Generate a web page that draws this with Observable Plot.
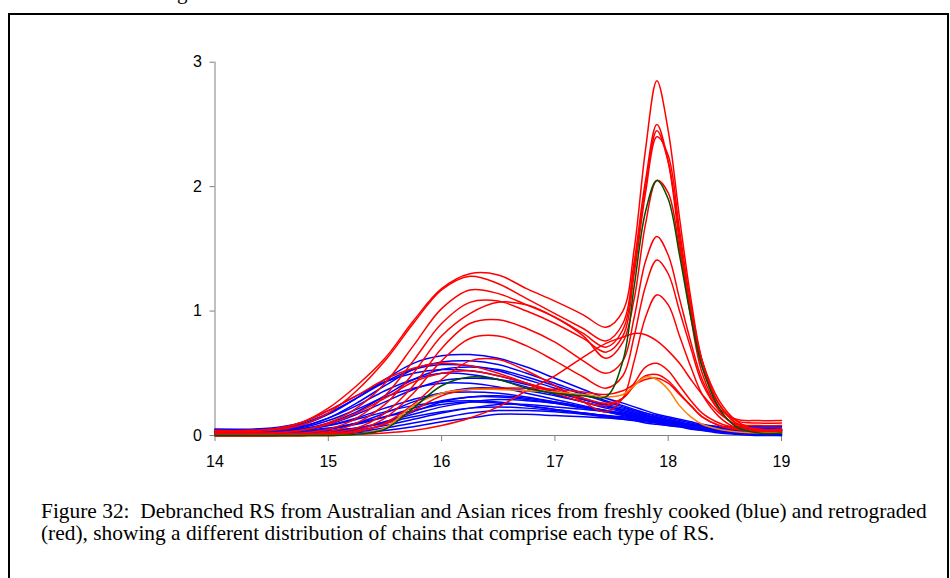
<!DOCTYPE html>
<html>
<head>
<meta charset="utf-8">
<script src="https://cdn.jsdelivr.net/npm/d3@7"></script>
<script src="https://cdn.jsdelivr.net/npm/@observablehq/plot@0.6"></script>
<style>
  html, body { margin: 0; padding: 0; background: #fff; }
  body { width: 950px; height: 578px; position: relative; overflow: hidden; }
  #frame { position: absolute; left: 8px; top: 13px; width: 941px; height: 600px; border: 2px solid #000; box-sizing: border-box; }
  #chart { position: absolute; left: 0; top: 0; }
  #head { position: absolute; left: 177px; top: -19px; font-family: "Liberation Serif", "Times New Roman", serif; font-size: 21px; line-height: 22px; }
  #caption { position: absolute; left: 41px; top: 500px; width: 905px; font-family: "Liberation Serif", "Times New Roman", serif; font-size: 21.4px; line-height: 22px; color: #000; white-space: nowrap; }
</style>
</head>
<body>
<div id="head">g</div>
<div id="frame"></div>
<div id="chart"></div>
<div id="caption">Figure 32:&nbsp; Debranched RS from Australian and Asian rices from freshly cooked (blue) and retrograded<br>(red), showing a different distribution of chains that comprise each type of RS.</div>
<script>
// shared elution-time grid (x)
const xGrid = [14, 14.5, 14.75, 15, 15.25, 15.5, 15.75, 16, 16.25, 16.5, 16.75, 17, 17.25, 17.45, 17.6, 17.7, 17.8, 17.9, 18, 18.1, 18.2, 18.3, 18.45, 18.6, 18.8, 19];
const xTicks = [14, 15, 16, 17, 18, 19];
const yTicks = [0, 1, 2, 3];

// freshly cooked (blue)
const blue01 = [0.04,0.05,0.08,0.17,0.30,0.45,0.58,0.64,0.65,0.62,0.55,0.46,0.37,0.30,0.26,0.23,0.20,0.17,0.15,0.13,0.11,0.09,0.07,0.06,0.05,0.05];
const blue02 = [0.04,0.05,0.07,0.14,0.26,0.40,0.53,0.59,0.60,0.57,0.50,0.42,0.34,0.28,0.24,0.21,0.18,0.15,0.13,0.11,0.09,0.08,0.06,0.05,0.04,0.04];
const blue03 = [0.05,0.05,0.09,0.18,0.30,0.43,0.53,0.57,0.56,0.52,0.45,0.38,0.30,0.24,0.20,0.18,0.16,0.14,0.12,0.10,0.08,0.07,0.06,0.05,0.05,0.05];
const blue04 = [0.03,0.03,0.05,0.10,0.19,0.32,0.45,0.53,0.55,0.53,0.47,0.40,0.33,0.27,0.23,0.20,0.17,0.14,0.12,0.10,0.08,0.06,0.04,0.03,0.03,0.03];
const blue05 = [0.04,0.04,0.07,0.14,0.24,0.36,0.45,0.50,0.49,0.45,0.39,0.33,0.27,0.22,0.19,0.17,0.15,0.13,0.11,0.10,0.08,0.07,0.06,0.05,0.05,0.05];
const blue06 = [0.03,0.03,0.05,0.09,0.17,0.27,0.37,0.44,0.46,0.45,0.41,0.35,0.29,0.24,0.21,0.19,0.16,0.14,0.12,0.10,0.08,0.07,0.05,0.04,0.03,0.03];
const blue07 = [0.04,0.04,0.06,0.12,0.21,0.31,0.38,0.42,0.42,0.39,0.34,0.29,0.24,0.20,0.17,0.15,0.13,0.12,0.10,0.09,0.08,0.07,0.06,0.05,0.05,0.05];
const blue08 = [0.02,0.02,0.03,0.05,0.10,0.18,0.27,0.34,0.38,0.38,0.36,0.32,0.27,0.23,0.20,0.18,0.16,0.14,0.12,0.10,0.08,0.06,0.04,0.03,0.02,0.02];
const blue09 = [0.03,0.03,0.04,0.08,0.14,0.22,0.29,0.34,0.35,0.34,0.31,0.27,0.23,0.20,0.18,0.16,0.14,0.12,0.10,0.09,0.07,0.06,0.05,0.04,0.04,0.04];
const blue10 = [0.02,0.02,0.03,0.05,0.09,0.15,0.22,0.28,0.31,0.31,0.29,0.26,0.22,0.19,0.17,0.15,0.13,0.12,0.10,0.08,0.07,0.05,0.04,0.03,0.02,0.02];
const blue11 = [0.01,0.01,0.02,0.03,0.06,0.11,0.17,0.23,0.27,0.29,0.28,0.26,0.23,0.20,0.18,0.16,0.14,0.12,0.10,0.08,0.06,0.05,0.03,0.02,0.01,0.01];
const blue12 = [0.03,0.03,0.04,0.06,0.10,0.15,0.20,0.25,0.27,0.26,0.24,0.21,0.18,0.16,0.14,0.13,0.12,0.11,0.10,0.09,0.08,0.07,0.06,0.05,0.05,0.05];
const blue13 = [0.01,0.01,0.01,0.02,0.04,0.08,0.13,0.18,0.22,0.25,0.25,0.23,0.21,0.19,0.17,0.16,0.14,0.12,0.10,0.08,0.06,0.05,0.03,0.02,0.01,0.00];
const blue14 = [0.02,0.02,0.02,0.04,0.06,0.10,0.15,0.19,0.22,0.23,0.22,0.20,0.18,0.16,0.15,0.14,0.13,0.12,0.11,0.10,0.09,0.08,0.07,0.07,0.07,0.07];
const blue15 = [0.00,0.00,0.01,0.02,0.03,0.06,0.10,0.14,0.18,0.20,0.20,0.19,0.17,0.15,0.14,0.13,0.12,0.11,0.09,0.08,0.06,0.05,0.03,0.02,0.01,0.01];
const blue16 = [0.00,0.00,0.00,0.01,0.02,0.04,0.07,0.11,0.14,0.17,0.17,0.16,0.15,0.14,0.13,0.12,0.11,0.10,0.09,0.08,0.07,0.06,0.05,0.04,0.04,0.04];
const blue17 = [0.00,0.00,0.01,0.02,0.05,0.11,0.19,0.27,0.31,0.32,0.30,0.27,0.23,0.19,0.16,0.14,0.12,0.10,0.08,0.07,0.05,0.04,0.02,0.01,0.00,0.00];
const blue18 = [0.05,0.06,0.10,0.20,0.32,0.43,0.50,0.53,0.52,0.48,0.42,0.35,0.29,0.25,0.22,0.20,0.18,0.16,0.14,0.12,0.10,0.08,0.07,0.06,0.06,0.06];
const blue19 = [0.03,0.03,0.05,0.08,0.13,0.19,0.24,0.27,0.28,0.27,0.24,0.21,0.18,0.15,0.13,0.12,0.10,0.09,0.08,0.07,0.06,0.05,0.04,0.04,0.04,0.04];

// retrograded (red)
const red01 = [0.04,0.05,0.10,0.22,0.40,0.62,0.92,1.18,1.30,1.29,1.18,1.08,0.97,0.87,1.00,1.50,2.30,2.85,2.45,1.75,1.10,0.60,0.25,0.12,0.10,0.10];
const red02 = [0.03,0.04,0.08,0.18,0.36,0.60,0.90,1.17,1.28,1.22,1.10,0.98,0.86,0.76,0.90,1.40,2.05,2.50,2.20,1.55,0.95,0.50,0.22,0.13,0.12,0.12];
const red03 = [0.02,0.02,0.04,0.10,0.22,0.42,0.72,1.02,1.17,1.14,1.05,0.95,0.82,0.71,0.85,1.35,2.00,2.45,2.20,1.60,1.00,0.55,0.25,0.10,0.08,0.08];
const red04 = [0.00,0.01,0.02,0.05,0.14,0.32,0.60,0.90,1.07,1.08,1.00,0.90,0.78,0.67,0.80,1.30,1.95,2.40,2.25,1.65,1.05,0.60,0.25,0.10,0.05,0.05];
const red05 = [0.00,0.00,0.01,0.03,0.10,0.25,0.50,0.80,0.98,1.07,1.05,0.95,0.80,0.62,0.75,1.10,1.70,2.05,1.95,1.50,1.00,0.60,0.28,0.12,0.04,0.03];
const red06 = [0.00,0.00,0.01,0.02,0.06,0.18,0.40,0.70,0.90,0.93,0.86,0.75,0.60,0.50,0.60,0.95,1.40,1.60,1.45,1.10,0.75,0.45,0.20,0.08,0.03,0.02];
const red07 = [0.00,0.00,0.00,0.01,0.04,0.14,0.34,0.60,0.78,0.80,0.72,0.60,0.47,0.38,0.48,0.80,1.20,1.41,1.30,1.00,0.70,0.42,0.20,0.08,0.03,0.02];
const red08 = [0.00,0.00,0.00,0.01,0.03,0.10,0.25,0.45,0.60,0.61,0.52,0.40,0.27,0.19,0.30,0.60,0.95,1.13,1.05,0.80,0.55,0.33,0.15,0.06,0.02,0.02];
const red09 = [0.04,0.05,0.10,0.20,0.32,0.45,0.54,0.58,0.56,0.50,0.42,0.34,0.27,0.24,0.30,0.42,0.55,0.58,0.52,0.40,0.28,0.18,0.10,0.06,0.04,0.04];
const red10 = [0.00,0.00,0.00,0.01,0.03,0.09,0.20,0.32,0.37,0.38,0.38,0.37,0.35,0.33,0.36,0.41,0.45,0.46,0.42,0.33,0.24,0.15,0.08,0.05,0.03,0.03];
const red11 = [0.00,0.00,0.00,0.00,0.01,0.02,0.04,0.08,0.14,0.23,0.36,0.48,0.63,0.74,0.79,0.82,0.81,0.76,0.68,0.58,0.45,0.33,0.18,0.09,0.05,0.05];
const red12 = [0.02,0.02,0.04,0.09,0.18,0.30,0.43,0.50,0.52,0.48,0.42,0.36,0.30,0.26,0.30,0.40,0.48,0.49,0.44,0.34,0.24,0.15,0.08,0.05,0.04,0.04];

// single highlighted samples
const orange01 = [0.00,0.00,0.00,0.00,0.01,0.06,0.24,0.34,0.37,0.37,0.36,0.35,0.33,0.31,0.33,0.40,0.47,0.45,0.37,0.24,0.15,0.09,0.05,0.03,0.02,0.02];
const green01 = [0.00,0.00,0.00,0.00,0.01,0.05,0.22,0.40,0.47,0.45,0.38,0.34,0.32,0.31,0.60,1.20,1.80,2.05,1.90,1.45,0.95,0.55,0.22,0.07,0.02,0.02];

const groups = [
  {color: "#0000ff", list: [blue01, blue02, blue03, blue04, blue05, blue06, blue07, blue08, blue09, blue10, blue11, blue12, blue13, blue14, blue15, blue16, blue17, blue18, blue19]},
  {color: "#ff0000", list: [red01, red02, red03, red04, red05, red06, red07, red08, red09, red10, red11, red12]},
  {color: "#ff8000", list: [orange01]},
  {color: "#005000", list: [green01]}
];

const rows = [];
groups.forEach((g, gi) => {
  g.list.forEach((vals, si) => {
    vals.forEach((v, i) => rows.push({x: xGrid[i], y: v, series: gi + "-" + si, color: g.color}));
  });
});

const plot = Plot.plot({
  width: 950,
  height: 500,
  marginLeft: 214.5,
  marginRight: 169,
  marginTop: 61.7,
  marginBottom: 65,
  style: {fontFamily: "'Liberation Sans', Arial, sans-serif", fontSize: "16px", background: "transparent", color: "#000"},
  x: {domain: [14, 19]},
  y: {domain: [0, 3]},
  marks: [
    Plot.ruleY([0], {stroke: "#808080", strokeWidth: 1}),
    Plot.ruleX([14], {stroke: "#808080", strokeWidth: 1}),
    Plot.axisX({ticks: xTicks, tickSize: 6, tickPadding: 14, stroke: "#808080", fill: "#000", fontSize: 16, label: null, tickFormat: d => String(d)}),
    Plot.axisY({ticks: yTicks, tickSize: 5, tickPadding: 8, stroke: "#808080", fill: "#000", fontSize: 16, label: null, tickFormat: d => String(d)}),
    Plot.line(rows, {x: "x", y: "y", z: "series", stroke: "color", strokeWidth: 1.5, curve: "catmull-rom"})
  ]
});
document.getElementById("chart").appendChild(plot);
</script>
</body>
</html>
